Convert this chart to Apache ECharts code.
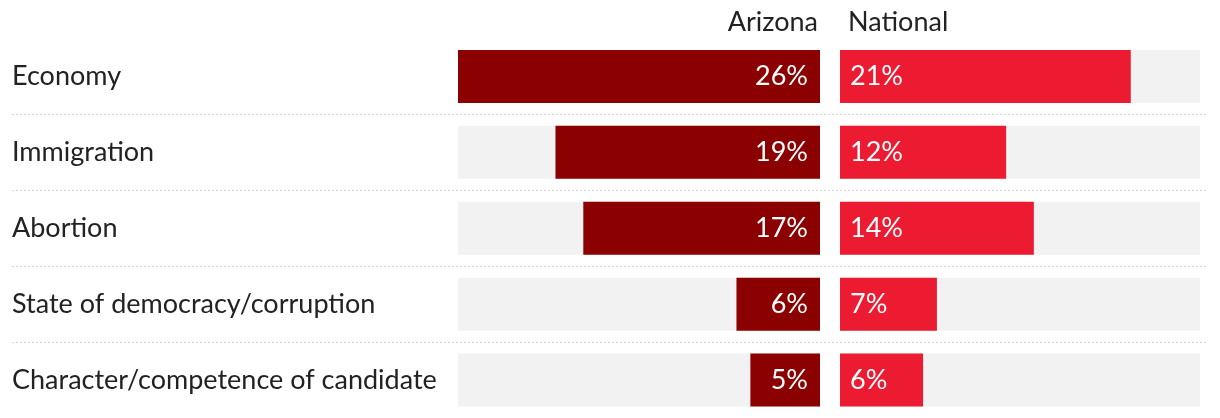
<!DOCTYPE html>
<html><head><meta charset="utf-8">
<script src="https://cdn.jsdelivr.net/npm/echarts@6/dist/echarts.min.js"></script>
<style>html,body{margin:0;padding:0;background:#fff}#c{width:1220px;height:418px}</style>
</head><body><div id="c"></div>
<script>
const categories = ["Economy","Immigration","Abortion","State of democracy/corruption","Character/competence of candidate"];
const arizona = [26,19,17,6,5];
const national = [21,12,14,7,6];
const seriesNames = ["Arizona","National"];
const axisMax = 26;

const FONT = 'Lato';
const chart = echarts.init(document.getElementById('c'), null, {renderer:'canvas'});
const gridTop = 38.5, gridH = 380;
chart.setOption({
  animation:false,
  textStyle:{fontFamily:FONT},
  title:[
    {text:seriesNames[0], right:402, top:9, padding:0, textStyle:{fontFamily:FONT,fontSize:27,fontWeight:'normal',color:'#222'}},
    {text:seriesNames[1], left:848, top:9, padding:0, textStyle:{fontFamily:FONT,fontSize:27,fontWeight:'normal',color:'#222'}}
  ],
  grid:[
    {left:12, width:1196, top:gridTop, height:gridH},
    {left:458, width:362, top:gridTop, height:gridH},
    {left:840, width:360, top:gridTop, height:gridH}
  ],
  xAxis:[
    {gridIndex:0, type:'value', min:0, max:axisMax, show:false},
    {gridIndex:1, type:'value', min:0, max:axisMax, inverse:true, show:false},
    {gridIndex:2, type:'value', min:0, max:axisMax, show:false}
  ],
  yAxis:[
    {gridIndex:0, type:'category', data:categories, inverse:true,
     axisLine:{show:false}, axisTick:{show:false},
     axisLabel:{inside:true, margin:0, align:'left', fontFamily:FONT, fontSize:27, color:'#222', padding:[0,0,12,0]},
     splitLine:{show:true, interval:function(i){return i>0;}, lineStyle:{type:[2,2], color:'#d6d6d6', width:1}}},
    {gridIndex:1, type:'category', data:categories, inverse:true, show:false},
    {gridIndex:2, type:'category', data:categories, inverse:true, show:false}
  ],
  series:[
    {name:seriesNames[0], type:'bar', xAxisIndex:1, yAxisIndex:1, data:arizona, barWidth:53,
     itemStyle:{color:'#8b0000'}, showBackground:true, backgroundStyle:{color:'#f2f2f2'},
     label:{show:true, position:'insideRight', distance:12, formatter:'{c}%', color:'#fff', fontFamily:FONT, fontSize:27}},
    {name:seriesNames[1], type:'bar', xAxisIndex:2, yAxisIndex:2, data:national, barWidth:53,
     itemStyle:{color:'#ed1b31'}, showBackground:true, backgroundStyle:{color:'#f2f2f2'},
     label:{show:true, position:'insideLeft', distance:10, formatter:'{c}%', color:'#fff', fontFamily:FONT, fontSize:27}}
  ]
});
</script></body></html>
